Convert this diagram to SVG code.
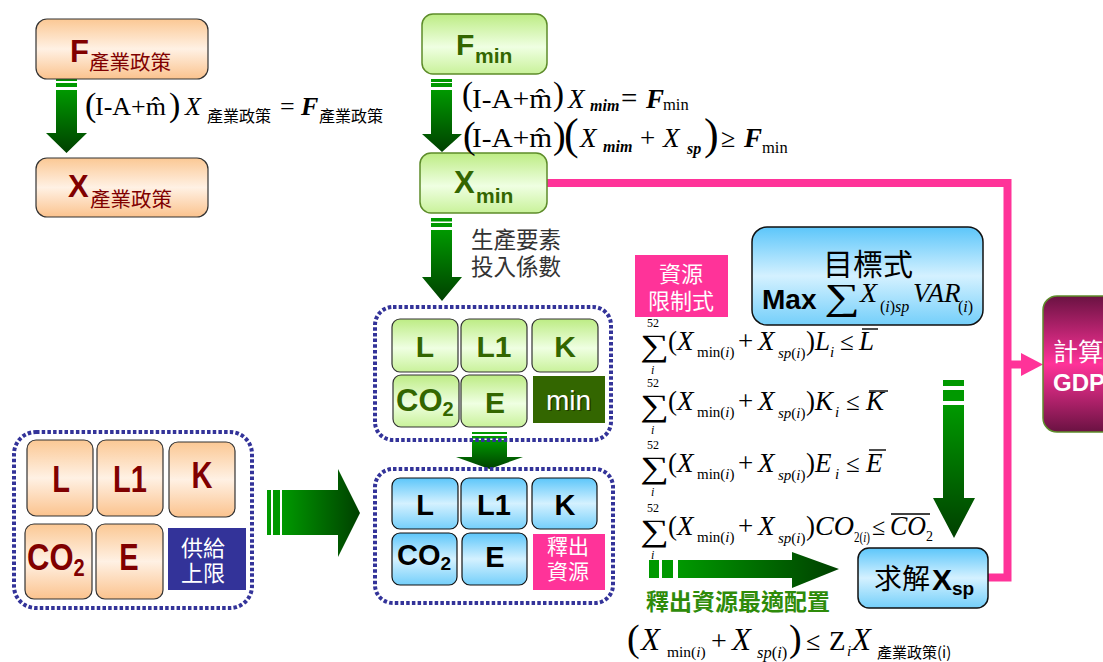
<svg xmlns="http://www.w3.org/2000/svg" width="1103" height="662" viewBox="0 0 1103 662">
<defs>
  <linearGradient id="gOrange" x1="0" y1="0" x2="0" y2="1">
    <stop offset="0" stop-color="#fbc894"/>
    <stop offset="0.5" stop-color="#fff1e4"/>
    <stop offset="1" stop-color="#fbc38e"/>
  </linearGradient>
  <linearGradient id="gGreen" x1="0" y1="0" x2="0" y2="1">
    <stop offset="0" stop-color="#bdec84"/>
    <stop offset="0.55" stop-color="#efffe2"/>
    <stop offset="1" stop-color="#c9f29a"/>
  </linearGradient>
  <linearGradient id="gBlue" x1="0" y1="0" x2="0" y2="1">
    <stop offset="0" stop-color="#5cc6fa"/>
    <stop offset="0.5" stop-color="#d4f1ff"/>
    <stop offset="1" stop-color="#74cffa"/>
  </linearGradient>
  <linearGradient id="gMag" x1="0" y1="0" x2="0" y2="1">
    <stop offset="0" stop-color="#6a1242"/>
    <stop offset="0.5" stop-color="#ff3399"/>
    <stop offset="1" stop-color="#6a1242"/>
  </linearGradient>
  <linearGradient id="gArrV" x1="0" y1="0" x2="0" y2="1">
    <stop offset="0" stop-color="#009900"/>
    <stop offset="1" stop-color="#004000"/>
  </linearGradient>
  <linearGradient id="gArrH" x1="0" y1="0" x2="1" y2="0">
    <stop offset="0" stop-color="#009900"/>
    <stop offset="1" stop-color="#004000"/>
  </linearGradient>
</defs>
<style>
  .cjk{font-family:'Noto Sans CJK TC','Noto Sans CJK SC',sans-serif}
  .sans{font-family:'Liberation Sans',Arial,sans-serif;font-weight:bold}
  .math{font-family:'Liberation Serif','Times New Roman',serif}
  .it{font-style:italic}
  .dot{fill:none;stroke:#333399;stroke-width:4;stroke-dasharray:3.5 2.2}
  .boxO{fill:url(#gOrange);stroke:#333;stroke-width:1.2}
  .boxG{fill:url(#gGreen);stroke:#5d8c2a;stroke-width:1.5}
  .cellG{fill:url(#gGreen);stroke:#333;stroke-width:1.2}
  .boxB{fill:url(#gBlue);stroke:#111;stroke-width:1.5}
  .red{fill:#800000}
  .dg{fill:#336600}
  .wt{fill:#fff}
  .pink{fill:none;stroke:#ff3399;stroke-width:8}
  .sv{fill:#009900}
  .sum{font-size:31px}
</style>

<!-- connectors -->
<g id="connectors">
  <path class="pink" d="M547,183 H1007.5 V577.5 H988"/>
  <path class="pink" d="M1007.5,364.5 H1024"/>
  <polygon fill="#ff3399" points="1021,353 1043,364.5 1021,376"/>

  <!-- F policy -> X policy -->
  <rect class="sv" x="56" y="78" width="21" height="3"/>
  <rect class="sv" x="56" y="83" width="21" height="4"/>
  <polygon fill="url(#gArrV)" points="56,90 77,90 77,133 87,133 66.5,153 46,133 56,133"/>

  <!-- F min -> X min -->
  <rect class="sv" x="431" y="79" width="21" height="3"/>
  <rect class="sv" x="431" y="83" width="21" height="4"/>
  <polygon fill="url(#gArrV)" points="431,90 452,90 452,134 462,134 442,152 422,134 431,134"/>

  <!-- X min -> coefficient block -->
  <rect class="sv" x="431" y="218" width="21" height="3.5"/>
  <rect class="sv" x="431" y="223" width="21" height="4"/>
  <polygon fill="url(#gArrV)" points="431,230 452,230 452,277 462,277 442,301 422,277 431,277"/>

  <!-- coefficient block -> released resources -->
  <rect class="sv" x="472" y="432" width="35" height="2"/>
  <rect class="sv" x="472" y="436" width="35" height="2.5"/>
  <polygon fill="url(#gArrV)" points="472,440 507,440 507,457 523,457 489.5,469 456,457 472,457"/>

  <!-- supply limits -> released resources -->
  <rect class="sv" x="267" y="490" width="4" height="45"/>
  <rect class="sv" x="273" y="490" width="7" height="45"/>
  <polygon fill="url(#gArrH)" points="282,490 338,490 338,469 360,513 338,557 338,535 282,535"/>

  <!-- objective -> solve -->
  <rect class="sv" x="943" y="380" width="21" height="6"/>
  <rect class="sv" x="943" y="390" width="21" height="11"/>
  <polygon fill="url(#gArrV)" points="943,405 964,405 964,498 975,498 954,538 933,498 943,498"/>

  <!-- optimal allocation -> solve -->
  <rect class="sv" x="649" y="560" width="10" height="18"/>
  <rect class="sv" x="662" y="560" width="11" height="18"/>
  <polygon fill="url(#gArrH)" points="678,560 792,560 792,552 839,569 792,588 792,578 678,578"/>
  <text class="cjk" x="646" y="610" font-size="23" font-weight="bold" fill="#2e8b0a">釋出資源最適配置</text>
</g>

<!-- F policy node -->
<g id="node-f-policy">
  <rect class="boxO" x="36" y="19" width="172" height="60" rx="11"/>
  <text class="sans red" x="70" y="62" font-size="31">F</text>
  <text class="cjk red" x="89" y="70" font-size="20.5">產業政策</text>
</g>

<!-- X policy node -->
<g id="node-x-policy">
  <rect class="boxO" x="36" y="158" width="172" height="59" rx="11"/>
  <text class="sans red" x="68" y="197" font-size="31">X</text>
  <text class="cjk red" x="90" y="207" font-size="20.5">產業政策</text>
</g>

<!-- policy equation -->
<g id="eq-policy" class="math">
  <text x="85" y="115.5" font-size="34">(</text>
  <text x="95" y="115" font-size="26">I-A+m̂</text>
  <text x="169" y="115.5" font-size="34">)</text>
  <text class="it" x="185" y="115" font-size="26">X</text>
  <text class="cjk" x="207" y="122" font-size="16">產業政策</text>
  <text x="280" y="115" font-size="26">=</text>
  <text class="it" x="301" y="115" font-size="26" font-weight="bold">F</text>
  <text class="cjk" x="319" y="122" font-size="16">產業政策</text>
</g>

<!-- F min node -->
<g id="node-f-min">
  <rect class="boxG" x="422" y="14" width="125" height="60" rx="11"/>
  <text class="sans dg" x="456" y="55" font-size="30">F</text>
  <text class="sans dg" x="475" y="63" font-size="21">min</text>
</g>

<!-- X min node -->
<g id="node-x-min">
  <rect class="boxG" x="420" y="153" width="127" height="60" rx="11"/>
  <text class="sans dg" x="454" y="193" font-size="31">X</text>
  <text class="sans dg" x="476" y="203" font-size="21">min</text>
</g>

<!-- minimum demand equations -->
<g id="eq-min" class="math">
  <text x="462" y="105" font-size="33">(</text>
  <text x="472" y="108" font-size="27" textLength="80" lengthAdjust="spacingAndGlyphs">I-A+m̂</text>
  <text x="553" y="105" font-size="33">)</text>
  <text class="it" x="568" y="108" font-size="27">X</text>
  <text class="it" x="590" y="111" font-size="16" font-weight="bold">mim</text>
  <text x="621" y="108" font-size="29">=</text>
  <text class="it" x="646" y="108" font-size="27" font-weight="bold">F</text>
  <text x="663" y="110" font-size="16.5">min</text>

  <text x="463" y="148" font-size="38">(</text>
  <text x="472" y="147" font-size="27" textLength="80" lengthAdjust="spacingAndGlyphs">I-A+m̂</text>
  <text x="553" y="148" font-size="38">)</text>
  <text x="564" y="148.5" font-size="44">(</text>
  <text class="it" x="580" y="147" font-size="27">X</text>
  <text class="it" x="603" y="152" font-size="16" font-weight="bold">mim</text>
  <text x="640" y="147" font-size="27">+</text>
  <text class="it" x="663" y="147" font-size="27">X</text>
  <text class="it" x="687" y="154" font-size="16" font-weight="bold">sp</text>
  <text x="704" y="148.5" font-size="44">)</text>
  <text x="721" y="147" font-size="26">≥</text>
  <text class="it" x="744" y="147" font-size="27" font-weight="bold">F</text>
  <text x="762" y="153" font-size="16.5">min</text>
</g>

<!-- coefficient label -->
<g id="label-coef">
  <text class="cjk" x="471" y="248" font-size="22.5" fill="#333">生產要素</text>
  <text class="cjk" x="471" y="275" font-size="22.5" fill="#333">投入係數</text>
</g>

<!-- coefficient block -->
<g id="node-coef">
  <rect class="dot" x="375" y="307" width="236" height="133" rx="18"/>
  <rect class="cellG" x="392" y="319" width="66" height="53" rx="8"/>
  <rect class="cellG" x="461" y="319" width="66" height="53" rx="8"/>
  <rect class="cellG" x="532" y="319" width="66" height="53" rx="8"/>
  <rect class="cellG" x="393" y="375" width="66" height="52" rx="8"/>
  <rect class="cellG" x="461" y="375" width="66" height="52" rx="8"/>
  <rect x="533" y="376" width="72" height="47" fill="#336600"/>
  <g class="sans dg" font-size="30" text-anchor="middle">
    <text x="425" y="357">L</text>
    <text x="494" y="357">L1</text>
    <text x="565" y="357">K</text>
    <text x="495" y="413">E</text>
  </g>
  <text class="sans dg" x="396" y="411" font-size="31">CO<tspan font-size="20" dy="5">2</tspan></text>
  <text x="570" y="411" font-size="28" text-anchor="middle" font-family="'Liberation Sans',Arial,sans-serif" fill="#1a2a00" opacity="0.7">min</text>
  <text x="568.5" y="409.5" font-size="28" text-anchor="middle" font-family="'Liberation Sans',Arial,sans-serif" fill="#fff">min</text>
</g>

<!-- supply limit block -->
<g id="node-supply">
  <rect class="dot" x="14" y="432" width="238" height="176" rx="22"/>
  <rect class="boxO" x="27" y="440" width="66" height="76" rx="9"/>
  <rect class="boxO" x="97" y="440" width="66" height="76" rx="9"/>
  <rect class="boxO" x="169" y="442" width="66" height="75" rx="9"/>
  <rect class="boxO" x="25" y="524" width="67" height="75" rx="9"/>
  <rect class="boxO" x="96" y="524" width="67" height="75" rx="9"/>
  <rect x="168" y="528" width="78" height="62" fill="#333399"/>
  <g class="sans red" font-size="29" text-anchor="middle">
    <text transform="translate(61,492) scale(1,1.28)">L</text>
    <text transform="translate(130,492) scale(1,1.28)">L1</text>
    <text transform="translate(202,488) scale(1,1.28)">K</text>
    <text transform="translate(129,570) scale(1,1.28)">E</text>
  </g>
  <text class="sans red" transform="translate(27,570) scale(1,1.22)" font-size="31">CO<tspan font-size="20" dy="5">2</tspan></text>
  <text class="cjk wt" x="203" y="556" font-size="22" text-anchor="middle">供給</text>
  <text class="cjk wt" x="203" y="581" font-size="22" text-anchor="middle">上限</text>
</g>

<!-- released resources block -->
<g id="node-release">
  <rect class="dot" x="375" y="469" width="238" height="134" rx="18"/>
  <rect class="boxB" x="392" y="478" width="66" height="51" rx="8" style="stroke-width:1.2"/>
  <rect class="boxB" x="461" y="478" width="66" height="51" rx="8" style="stroke-width:1.2"/>
  <rect class="boxB" x="532" y="478" width="65" height="51" rx="8" style="stroke-width:1.2"/>
  <rect class="boxB" x="392" y="533" width="65" height="52" rx="8" style="stroke-width:1.2"/>
  <rect class="boxB" x="462" y="533" width="65" height="52" rx="8" style="stroke-width:1.2"/>
  <rect x="533" y="534" width="72" height="56" fill="#ff3399"/>
  <g class="sans" font-size="29" text-anchor="middle" fill="#000">
    <text x="425" y="515">L</text>
    <text x="494" y="515">L1</text>
    <text x="565" y="515">K</text>
    <text x="495" y="567">E</text>
  </g>
  <text class="sans" x="397" y="565" font-size="29" fill="#000">CO<tspan font-size="19" dy="5">2</tspan></text>
  <text class="cjk wt" x="568" y="554" font-size="21" text-anchor="middle">釋出</text>
  <text class="cjk wt" x="568" y="579" font-size="21" text-anchor="middle">資源</text>
</g>

<!-- resource constraint label -->
<g id="node-constraint-label">
  <rect x="635" y="255" width="93" height="62" fill="#ff3399"/>
  <text class="cjk wt" x="681" y="282" font-size="22" text-anchor="middle">資源</text>
  <text class="cjk wt" x="681" y="309" font-size="22" text-anchor="middle">限制式</text>
</g>

<!-- resource constraints -->
<g id="eq-constraints" class="math" fill="#000">
  <!-- labour -->
  <text x="647" y="327" font-size="12">52</text>
  <text class="sum" transform="translate(640,356) scale(1.3,1)">∑</text>
  <text class="it" x="651" y="374" font-size="12">i</text>
  <text x="668" y="350" font-size="27">(</text>
  <text class="it" x="677" y="350" font-size="27">X</text>
  <text x="697" y="357" font-size="15">min(<tspan class="it">i</tspan>)</text>
  <text x="738" y="350" font-size="27">+</text>
  <text class="it" x="758" y="350" font-size="27">X</text>
  <text x="778" y="358" font-size="15"><tspan class="it">sp</tspan>(<tspan class="it">i</tspan>)</text>
  <text x="806" y="350" font-size="27">)</text>
  <text class="it" x="815" y="350" font-size="27">L</text>
  <text class="it" x="830" y="357" font-size="15">i</text>
  <text x="840" y="350" font-size="25">≤</text>
  <text class="it" x="859" y="350" font-size="27">L</text>
  <line x1="862" y1="329" x2="878" y2="329" stroke="#000" stroke-width="1.4"/>

  <!-- capital -->
  <text x="647" y="387" font-size="12">52</text>
  <text class="sum" transform="translate(640,416) scale(1.3,1)">∑</text>
  <text class="it" x="651" y="434" font-size="12">i</text>
  <text x="668" y="410" font-size="27">(</text>
  <text class="it" x="677" y="410" font-size="27">X</text>
  <text x="697" y="417" font-size="15">min(<tspan class="it">i</tspan>)</text>
  <text x="738" y="410" font-size="27">+</text>
  <text class="it" x="758" y="410" font-size="27">X</text>
  <text x="778" y="418" font-size="15"><tspan class="it">sp</tspan>(<tspan class="it">i</tspan>)</text>
  <text x="806" y="410" font-size="27">)</text>
  <text class="it" x="815" y="410" font-size="27">K</text>
  <text class="it" x="835" y="417" font-size="15">i</text>
  <text x="846" y="410" font-size="25">≤</text>
  <text class="it" x="866" y="410" font-size="27">K</text>
  <line x1="869" y1="391" x2="888" y2="391" stroke="#000" stroke-width="1.4"/>

  <!-- energy -->
  <text x="647" y="449" font-size="12">52</text>
  <text class="sum" transform="translate(640,478) scale(1.3,1)">∑</text>
  <text class="it" x="651" y="496" font-size="12">i</text>
  <text x="668" y="472" font-size="27">(</text>
  <text class="it" x="677" y="472" font-size="27">X</text>
  <text x="697" y="479" font-size="15">min(<tspan class="it">i</tspan>)</text>
  <text x="738" y="472" font-size="27">+</text>
  <text class="it" x="758" y="472" font-size="27">X</text>
  <text x="778" y="480" font-size="15"><tspan class="it">sp</tspan>(<tspan class="it">i</tspan>)</text>
  <text x="806" y="472" font-size="27">)</text>
  <text class="it" x="815" y="472" font-size="27">E</text>
  <text class="it" x="835" y="479" font-size="15">i</text>
  <text x="846" y="472" font-size="25">≤</text>
  <text class="it" x="866" y="472" font-size="27">E</text>
  <line x1="869" y1="450" x2="886" y2="450" stroke="#000" stroke-width="1.4"/>

  <!-- carbon -->
  <text x="647" y="512" font-size="12">52</text>
  <text class="sum" transform="translate(640,541) scale(1.3,1)">∑</text>
  <text class="it" x="651" y="559" font-size="12">i</text>
  <text x="668" y="535" font-size="27">(</text>
  <text class="it" x="677" y="535" font-size="27">X</text>
  <text x="697" y="542" font-size="15">min(<tspan class="it">i</tspan>)</text>
  <text x="738" y="535" font-size="27">+</text>
  <text class="it" x="758" y="535" font-size="27">X</text>
  <text x="778" y="543" font-size="15"><tspan class="it">sp</tspan>(<tspan class="it">i</tspan>)</text>
  <text x="806" y="535" font-size="27">)</text>
  <text class="it" x="815" y="535" font-size="27" textLength="39" lengthAdjust="spacingAndGlyphs">CO</text>
  <text x="854" y="542" font-size="14" textLength="16" lengthAdjust="spacingAndGlyphs">2(<tspan class="it">i</tspan>)</text>
  <text x="872" y="535" font-size="24">≤</text>
  <text class="it" x="890" y="535" font-size="27" textLength="36" lengthAdjust="spacingAndGlyphs">CO</text>
  <text x="926" y="541" font-size="14">2</text>
  <line x1="891" y1="514" x2="930" y2="514" stroke="#000" stroke-width="1.4"/>
</g>

<!-- objective node -->
<g id="node-objective">
  <rect class="boxB" x="752" y="227" width="231" height="98" rx="15"/>
  <text class="cjk" x="868" y="275" font-size="30" text-anchor="middle" fill="#000">目標式</text>
  <text class="sans" x="762" y="309" font-size="28" fill="#000">Max</text>
  <text class="math" transform="translate(824,309) scale(1.35,1)" font-size="37">∑</text>
  <text class="math it" x="860" y="302" font-size="28">X</text>
  <text class="math" x="880" y="312" font-size="16">(<tspan class="it">i</tspan>)<tspan class="it">sp</tspan></text>
  <text class="math it" x="913" y="302" font-size="27">VAR</text>
  <text class="math" x="958" y="312" font-size="16">(<tspan class="it">i</tspan>)</text>
</g>

<!-- solve node -->
<g id="node-solve">
  <rect class="boxB" x="858" y="548" width="130" height="60" rx="11"/>
  <text class="cjk" x="874" y="589" font-size="28" fill="#000">求解</text>
  <text class="sans" x="932" y="590" font-size="30" fill="#000">X</text>
  <text class="sans" x="952" y="595" font-size="19" fill="#000">sp</text>
</g>

<!-- GDP node -->
<g id="node-gdp">
  <rect x="1043" y="296" width="120" height="136" rx="14" fill="url(#gMag)" stroke="#5d8c2a" stroke-width="1.5"/>
  <text class="cjk wt" x="1053" y="361" font-size="25">計算</text>
  <text class="sans wt" x="1053" y="391" font-size="24">GDP</text>
</g>

<!-- share bound -->
<g id="eq-share" class="math" fill="#000">
  <text x="627" y="651" font-size="38">(</text>
  <text class="it" x="641" y="650" font-size="31">X</text>
  <text x="667" y="657" font-size="15.5">min(<tspan class="it">i</tspan>)</text>
  <text x="711" y="650" font-size="28">+</text>
  <text class="it" x="732" y="650" font-size="31">X</text>
  <text x="757" y="658" font-size="16.5"><tspan class="it">sp</tspan>(<tspan class="it">i</tspan>)</text>
  <text x="789" y="651" font-size="38">)</text>
  <text x="806" y="650" font-size="26">≤</text>
  <text x="829" y="650" font-size="27">Z</text>
  <text class="it" x="847" y="656" font-size="15">i</text>
  <text class="it" x="852" y="650" font-size="31">X</text>
  <text class="cjk" x="877" y="658" font-size="15">產業政策(i)</text>
</g>
</svg>
